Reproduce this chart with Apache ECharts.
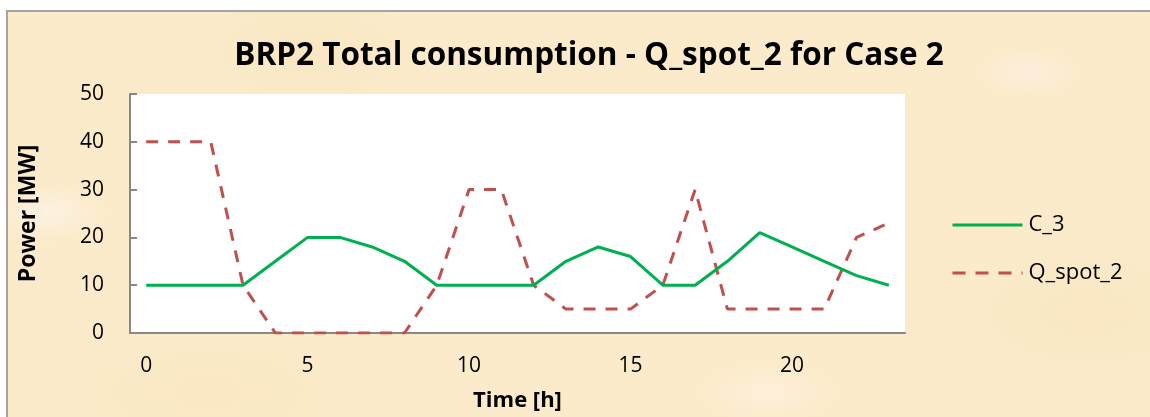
<!DOCTYPE html>
<html>
<head>
<meta charset="utf-8">
<script src="https://cdn.jsdelivr.net/npm/echarts@6/dist/echarts.min.js"></script>
<style>
  html, body { margin: 0; padding: 0; background: #ffffff; }
  #frame {
    position: absolute; left: 6px; top: 10px; width: 1144px; height: 407px;
    box-sizing: border-box;
    border-left: 2px solid #a3a3a3; border-top: 2px solid #a3a3a3;
    background-color: #fbebca;
    background-image:
      radial-gradient(ellipse 60px 30px at 40px 200px, rgba(255,245,235,0.7), rgba(255,245,235,0)),
      radial-gradient(ellipse 50px 25px at 1020px 60px, rgba(255,240,235,0.6), rgba(255,240,235,0)),
      radial-gradient(ellipse 70px 30px at 760px 380px, rgba(255,243,230,0.6), rgba(255,243,230,0)),
      radial-gradient(ellipse 120px 60px at 300px 40px, rgba(248,228,190,0.6), rgba(248,228,190,0)),
      radial-gradient(ellipse 140px 70px at 1080px 300px, rgba(247,226,188,0.5), rgba(247,226,188,0)),
      radial-gradient(ellipse 150px 60px at 200px 380px, rgba(249,229,190,0.6), rgba(249,229,190,0));
  }
  #chart { position: absolute; left: 0; top: 0; width: 1150px; height: 417px; }
</style>
</head>
<body>
<div id="frame"></div>
<div id="chart"></div>
<script>
// Hours of the day (x categories)
const hours = ['0','1','2','3','4','5','6','7','8','9','10','11','12','13','14','15','16','17','18','19','20','21','22','23'];
// Total consumption C_3 [MW]
const c3 = [10, 10, 10, 10, 15, 20, 20, 18, 15, 10, 10, 10, 10, 15, 18, 16, 10, 10, 15, 21, 18, 15, 12, 10];
// Spot quantity Q_spot_2 [MW]
const qSpot2 = [40, 40, 40, 10, 0, 0, 0, 0, 0, 10, 30, 30, 10, 5, 5, 5, 10, 30, 5, 5, 5, 5, 20, 23];
// Value-axis ticks
const yTicks = { min: 0, max: 50, interval: 10 };

const FONT = '"Open Sans", Lato, sans-serif';
const GREEN = '#00b050';
const RED = '#c0504d';
const DASH = [12, 10];

const chart = echarts.init(document.getElementById('chart'), null, { renderer: 'canvas' });

chart.setOption({
  backgroundColor: 'transparent',
  animation: false,
  title: {
    text: 'BRP2 Total consumption - Q_spot_2 for Case 2',
    left: 584, top: 35, textAlign: 'center',
    textStyle: { fontFamily: FONT, fontWeight: 'bold', fontSize: 31.5, color: '#000' }
  },
  legend: {
    orient: 'vertical',
    left: 946, top: 209,
    itemWidth: 70, itemHeight: 24, itemGap: 26,
    itemStyle: { opacity: 0 },
    lineStyle: { width: 3 },
    textStyle: { fontFamily: FONT, fontSize: 22, color: '#000', padding: [0, 0, 0, 1] },
    data: [
      { name: 'C_3' },
      { name: 'Q_spot_2', lineStyle: { type: [13, 10], width: 3 } }
    ]
  },
  grid: {
    left: 130, right: 245, top: 94, bottom: 82,
    show: true, backgroundColor: '#ffffff', borderWidth: 0
  },
  xAxis: {
    type: 'category',
    data: hours,
    boundaryGap: true,
    name: 'Time [h]', nameLocation: 'middle', nameGap: 57,
    nameTextStyle: { fontFamily: FONT, fontWeight: 'bold', fontSize: 22, color: '#000' },
    axisLine: { lineStyle: { color: '#878787', width: 2 } },
    axisTick: { show: false },
    axisLabel: {
      interval: (i) => i % 5 === 0,
      margin: 23,
      fontFamily: FONT, fontSize: 21, color: '#000'
    },
    splitLine: { show: false }
  },
  yAxis: {
    type: 'value',
    min: yTicks.min, max: yTicks.max, interval: yTicks.interval,
    name: 'Power [MW]', nameLocation: 'middle', nameGap: 90,
    nameTextStyle: { fontFamily: FONT, fontWeight: 'bold', fontSize: 23, color: '#000' },
    axisLine: { show: true, lineStyle: { color: '#878787', width: 2 } },
    axisTick: { show: true, inside: true, length: 7, lineStyle: { color: '#878787', width: 2 } },
    axisLabel: { margin: 26, fontFamily: FONT, fontSize: 21, color: '#000' },
    splitLine: { show: false }
  },
  series: [
    {
      name: 'C_3', type: 'line', data: c3,
      symbol: 'none',
      lineStyle: { color: GREEN, width: 3 },
      itemStyle: { color: GREEN },
      z: 3
    },
    {
      name: 'Q_spot_2', type: 'line', data: qSpot2,
      symbol: 'none',
      lineStyle: { color: RED, width: 3, type: DASH },
      itemStyle: { color: RED },
      z: 2
    }
  ]
});
</script>
</body>
</html>
